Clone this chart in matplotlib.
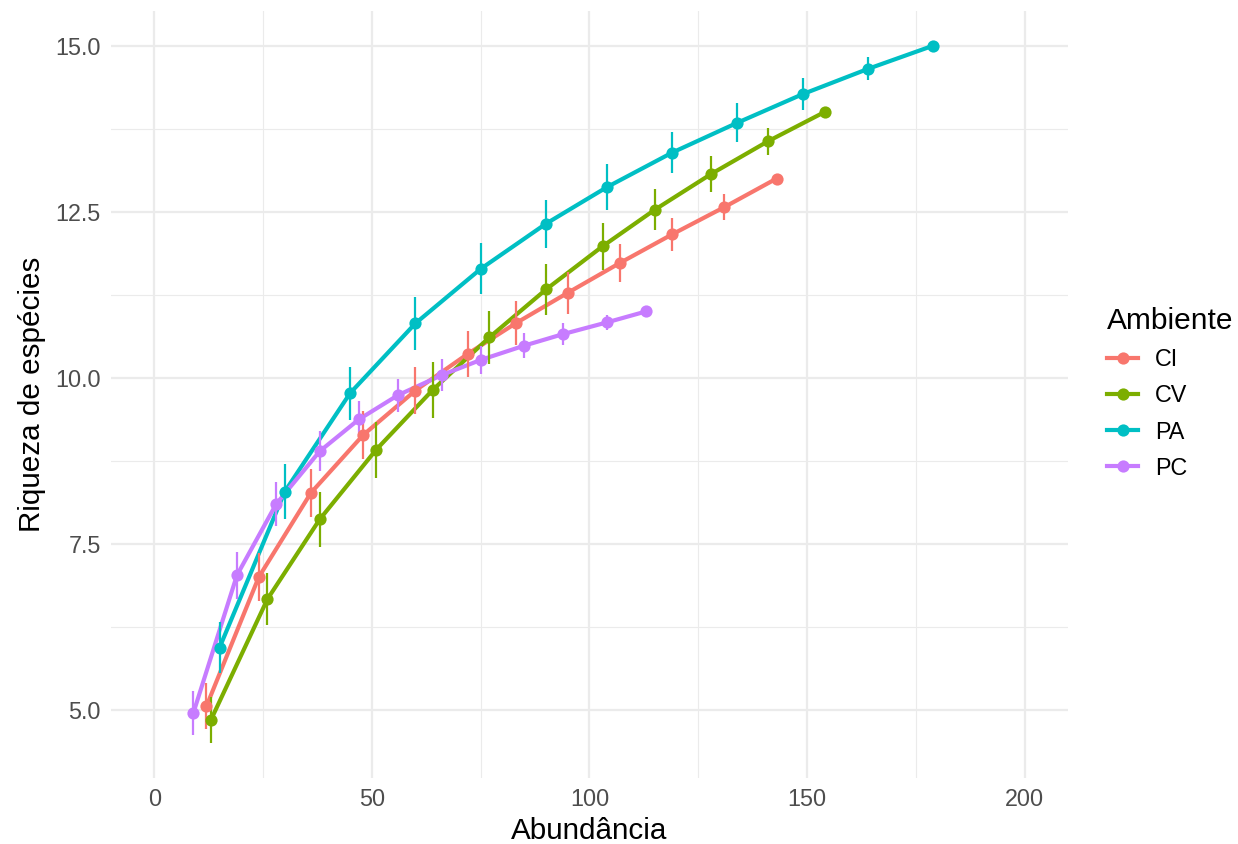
import matplotlib
matplotlib.use("Agg")
import matplotlib.pyplot as plt
from matplotlib.lines import Line2D
from matplotlib.ticker import MultipleLocator

plt.rcParams['font.family'] = ['Liberation Sans', 'DejaVu Sans']

groups = ["CI", "CV", "PA", "PC"]
colors = ["#F8766D", "#7CAE00", "#00BFC4", "#C77CFF"]

CI_x = [12, 24, 36, 48, 60, 72, 83, 95, 107, 119, 131, 143]
CI_y = [5.06, 7.0, 8.27, 9.14, 9.81, 10.36, 10.82, 11.28, 11.73, 12.16, 12.57, 13.0]
CI_e = [0.35, 0.36, 0.36, 0.36, 0.35, 0.35, 0.33, 0.32, 0.29, 0.25, 0.2, 0.0]

CV_x = [13, 26, 38, 51, 64, 77, 90, 103, 115, 128, 141, 154]
CV_y = [4.85, 6.67, 7.87, 8.92, 9.82, 10.61, 11.33, 11.98, 12.53, 13.07, 13.56, 14.0]
CV_e = [0.35, 0.39, 0.42, 0.42, 0.42, 0.40, 0.38, 0.35, 0.31, 0.27, 0.2, 0.0]

PA_x = [15, 30, 45, 60, 75, 90, 104, 119, 134, 149, 164, 179]
PA_y = [5.94, 8.29, 9.77, 10.82, 11.64, 12.32, 12.87, 13.39, 13.84, 14.27, 14.65, 15.0]
PA_e = [0.38, 0.42, 0.40, 0.40, 0.385, 0.36, 0.35, 0.31, 0.29, 0.24, 0.175, 0.0]

PC_x = [9, 19, 28, 38, 47, 56, 66, 75, 85, 94, 104, 113]
PC_y = [4.96, 7.03, 8.10, 8.895, 9.375, 9.74, 10.04, 10.27, 10.485, 10.66, 10.835, 11.0]
PC_e = [0.33, 0.35, 0.33, 0.30, 0.27, 0.25, 0.24, 0.21, 0.19, 0.165, 0.11, 0.0]

xs = [CI_x, CV_x, PA_x, PC_x]
ys = [CI_y, CV_y, PA_y, PC_y]
es = [CI_e, CV_e, PA_e, PC_e]

W, H = 1238, 844
fig = plt.figure(figsize=(W / 100, H / 100), dpi=100)
ax = fig.add_axes([110.7 / W, 1 - 778.3 / H, (1068.3 - 110.7) / W, (778.3 - 10.7) / H])

for x, y, c in zip(xs, ys, colors):
    ax.plot(x, y, color=c, lw=3.0, zorder=3, solid_capstyle='butt')
for x, y, e, c in zip(xs, ys, es, colors):
    lo = [yy - ee for yy, ee in zip(y, e)]
    hi = [yy + ee for yy, ee in zip(y, e)]
    ax.vlines(x, lo, hi, color=c, lw=1.6, zorder=4)
for x, y, c in zip(xs, ys, colors):
    ax.plot(x, y, 'o', color=c, ms=8.8, mew=0, zorder=5)

ax.set_xlim(-10, 210)
ax.set_ylim(3.975, 15.525)
ax.xaxis.set_major_locator(MultipleLocator(50))
ax.xaxis.set_minor_locator(MultipleLocator(25))
ax.yaxis.set_major_locator(MultipleLocator(2.5))
ax.yaxis.set_minor_locator(MultipleLocator(1.25))
ax.set_yticks([5.0, 7.5, 10.0, 12.5, 15.0])
ax.set_yticklabels(["5.0", "7.5", "10.0", "12.5", "15.0"])

ax.grid(which='major', color='#EBEBEB', lw=1.6, zorder=0)
ax.grid(which='minor', color='#EBEBEB', lw=0.8, zorder=0)
ax.set_axisbelow(True)
for s in ax.spines.values():
    s.set_visible(False)
ax.tick_params(which='both', length=0)
ax.tick_params(axis='both', labelsize=16.8, labelcolor='#4D4D4D', pad=7)

ax.set_xlabel("Abundância", fontsize=21.3, color='black', labelpad=4)
ax.set_ylabel("Riqueza de espécies", fontsize=21.3, color='black', labelpad=7)

handles = [Line2D([0], [0], color=c, lw=3.0, marker='o', ms=8.8, mew=0) for c in colors]
leg = fig.legend(handles, groups, loc='upper left',
                 bbox_to_anchor=(1091 / W, 1 - 291 / H),
                 frameon=False, fontsize=16.8, title="Ambiente", title_fontsize=21.5,
                 handlelength=1.3, handletextpad=0.75, labelspacing=0.56,
                 alignment='left', borderpad=0.2)

fig.savefig("out.png", dpi=100)
